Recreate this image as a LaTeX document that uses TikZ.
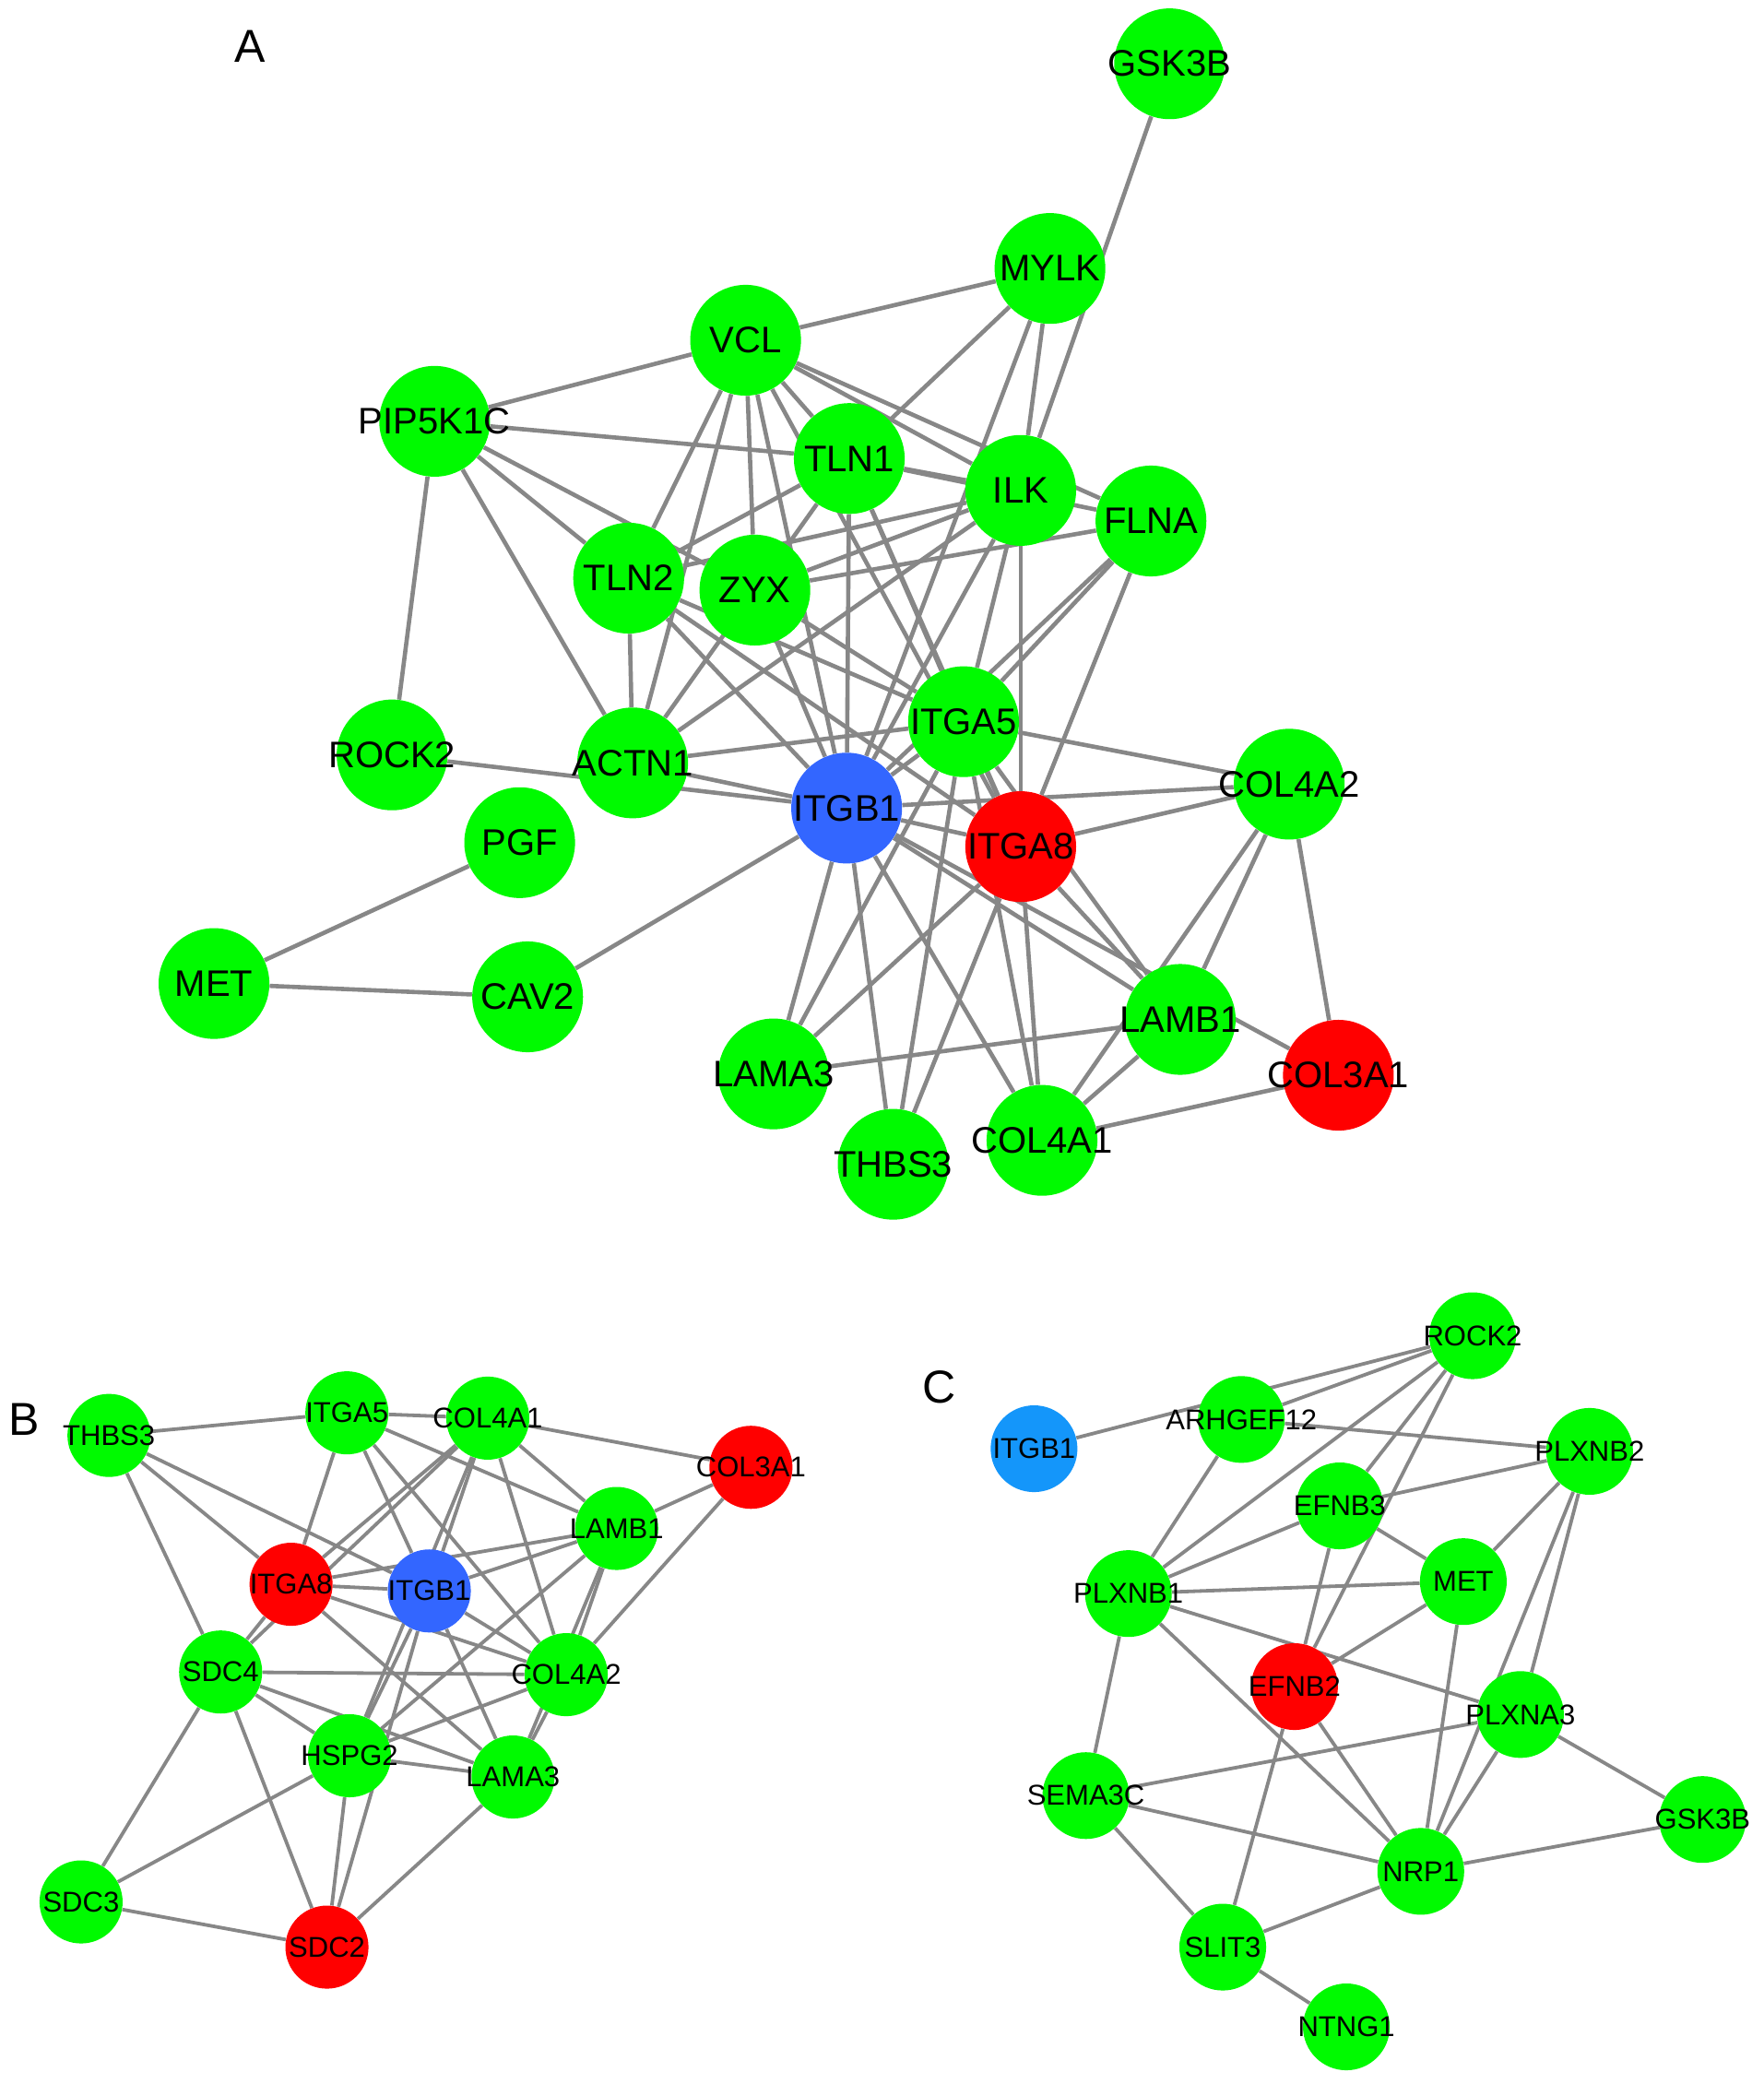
\documentclass[tikz,border=0pt]{standalone}
\usepackage{fontspec}
\setmainfont{Liberation Sans}
\usetikzlibrary{backgrounds}
\definecolor{ngreen}{RGB}{0,250,0}
\definecolor{nred}{RGB}{255,0,0}
\definecolor{nblue}{RGB}{51,102,255}
\definecolor{ncyan}{RGB}{20,150,250}
\definecolor{egray}{RGB}{135,135,135}
\pgfdeclarelayer{bgwhite}
\pgfdeclarelayer{edges}
\pgfsetlayers{bgwhite,edges,main}
\tikzset{
  anode/.style={circle, inner sep=0pt, minimum size=60pt, label={[font=\fontsize{20}{24}\selectfont, text=black]center:#1}},
  bnode/.style={circle, inner sep=0pt, minimum size=45pt, label={[font=\fontsize{15.5}{19}\selectfont, text=black]center:#1}},
  cnode/.style={circle, inner sep=0pt, minimum size=47pt, label={[font=\fontsize{15.5}{19}\selectfont, text=black]center:#1}},
  gfill/.style={fill=ngreen},
  rfill/.style={fill=nred},
  bfill/.style={fill=nblue},
  cfill/.style={fill=ncyan},
  aedge/.style={draw=egray, line width=2.3pt},
  bedge/.style={draw=egray, line width=1.9pt},
  panel/.style={font=\fontsize{25}{30}\selectfont, text=black}
}
\begin{document}
\begin{tikzpicture}[x=0.72pt, y=-0.72pt]
\useasboundingbox (0,0) rectangle (1327,1568);
\begin{pgfonlayer}{bgwhite}
\fill[white] (0,0) rectangle (1327,1568);
\end{pgfonlayer}

% ---------------- Panel A ----------------
\node[panel] (labA) at (188,35) {A};
\node[anode=GSK3B, gfill] (aGSK3B) at (880,48) {};
\node[anode=MYLK, gfill] (aMYLK) at (790,202) {};
\node[anode=VCL, gfill] (aVCL) at (561,256) {};
\node[anode=PIP5K1C, gfill] (aPIP) at (327,317) {};
\node[anode=TLN1, gfill] (aTLN1) at (639,345) {};
\node[anode=ILK, gfill] (aILK) at (768,369) {};
\node[anode=FLNA, gfill] (aFLNA) at (866,392) {};
\node[anode=TLN2, gfill] (aTLN2) at (473,435) {};
\node[anode=ZYX, gfill] (aZYX) at (568,444) {};
\node[anode=ITGA5, gfill] (aITGA5) at (725,543) {};
\node[anode=ROCK2, gfill] (aROCK2) at (295,568) {};
\node[anode=ACTN1, gfill] (aACTN1) at (476,574) {};
\node[anode=ITGB1, bfill] (aITGB1) at (637,608) {};
\node[anode=COL4A2, gfill] (aCOL4A2) at (970,590) {};
\node[anode=ITGA8, rfill] (aITGA8) at (768,637) {};
\node[anode=PGF, gfill] (aPGF) at (391,634) {};
\node[anode=MET, gfill] (aMET) at (161,740) {};
\node[anode=CAV2, gfill] (aCAV2) at (397,750) {};
\node[anode=LAMB1, gfill] (aLAMB1) at (888,767) {};
\node[anode=COL3A1, rfill] (aCOL3A1) at (1007,809) {};
\node[anode=LAMA3, gfill] (aLAMA3) at (582,808) {};
\node[anode=COL4A1, gfill] (aCOL4A1) at (784,858) {};
\node[anode=THBS3, gfill] (aTHBS3) at (672,876) {};

\begin{pgfonlayer}{edges}
\foreach \p/\q in {aGSK3B/aILK,
  aMYLK/aVCL, aMYLK/aTLN1, aMYLK/aILK, aMYLK/aITGB1,
  aVCL/aPIP, aVCL/aTLN1, aVCL/aILK, aVCL/aFLNA, aVCL/aTLN2, aVCL/aZYX, aVCL/aACTN1, aVCL/aITGB1, aVCL/aITGA8,
  aPIP/aTLN1, aPIP/aTLN2, aPIP/aZYX, aPIP/aACTN1, aPIP/aROCK2,
  aTLN1/aILK, aTLN1/aFLNA, aTLN1/aTLN2, aTLN1/aACTN1, aTLN1/aITGB1, aTLN1/aITGA5, aTLN1/aITGA8,
  aILK/aTLN2, aILK/aZYX, aILK/aACTN1, aILK/aITGB1, aILK/aITGA5, aILK/aITGA8,
  aFLNA/aZYX, aFLNA/aITGA5, aFLNA/aITGB1, aFLNA/aITGA8,
  aTLN2/aACTN1, aTLN2/aITGB1, aTLN2/aITGA5, aTLN2/aITGA8,
  aZYX/aITGB1, aZYX/aITGA5,
  aACTN1/aITGA5, aACTN1/aITGB1,
  aROCK2/aITGB1,
  aITGB1/aCAV2, aITGB1/aITGA5, aITGB1/aITGA8, aITGB1/aCOL4A2, aITGB1/aLAMB1, aITGB1/aCOL3A1, aITGB1/aCOL4A1, aITGB1/aTHBS3, aITGB1/aLAMA3,
  aITGA5/aITGA8, aITGA5/aCOL4A2, aITGA5/aLAMB1, aITGA5/aCOL4A1, aITGA5/aTHBS3, aITGA5/aLAMA3,
  aITGA8/aCOL4A2, aITGA8/aLAMB1, aITGA8/aCOL4A1, aITGA8/aTHBS3, aITGA8/aLAMA3,
  aCOL4A2/aLAMB1, aCOL4A2/aCOL4A1, aCOL4A2/aCOL3A1,
  aLAMB1/aLAMA3, aLAMB1/aCOL4A1,
  aCOL4A1/aCOL3A1,
  aPGF/aMET, aMET/aCAV2}
  \draw[aedge] (\p) -- (\q);
\end{pgfonlayer}

% ---------------- Panel B ----------------
\node[panel] (labB) at (18,1068) {B};
\node[bnode=THBS3, gfill] (bTHBS3) at (82,1080) {};
\node[bnode=ITGA5, gfill] (bITGA5) at (261,1063) {};
\node[bnode=COL4A1, gfill] (bCOL4A1) at (367,1067) {};
\node[bnode=COL3A1, rfill] (bCOL3A1) at (565,1104) {};
\node[bnode=LAMB1, gfill] (bLAMB1) at (464,1150) {};
\node[bnode=ITGA8, rfill] (bITGA8) at (219,1192) {};
\node[bnode=ITGB1, bfill] (bITGB1) at (323,1197) {};
\node[bnode=SDC4, gfill] (bSDC4) at (166,1258) {};
\node[bnode=COL4A2, gfill] (bCOL4A2) at (426,1260) {};
\node[bnode=HSPG2, gfill] (bHSPG2) at (263,1321) {};
\node[bnode=LAMA3, gfill] (bLAMA3) at (386,1337) {};
\node[bnode=SDC3, gfill] (bSDC3) at (61,1431) {};
\node[bnode=SDC2, rfill] (bSDC2) at (246,1465) {};

\begin{pgfonlayer}{edges}
\foreach \p/\q in {bTHBS3/bITGA5, bTHBS3/bITGA8, bTHBS3/bITGB1, bTHBS3/bSDC4,
  bITGA5/bCOL4A1, bITGA5/bITGA8, bITGA5/bITGB1, bITGA5/bLAMB1, bITGA5/bCOL4A2,
  bCOL4A1/bCOL3A1, bCOL4A1/bLAMB1, bCOL4A1/bCOL4A2, bCOL4A1/bITGA8, bCOL4A1/bSDC4, bCOL4A1/bITGB1, bCOL4A1/bHSPG2,
  bCOL3A1/bLAMB1, bCOL3A1/bCOL4A2,
  bLAMB1/bITGB1, bLAMB1/bITGA8, bLAMB1/bCOL4A2, bLAMB1/bLAMA3, bLAMB1/bHSPG2,
  bITGA8/bITGB1, bITGA8/bCOL4A2, bITGA8/bLAMA3, bITGA8/bSDC4,
  bITGB1/bCOL4A2, bITGB1/bLAMA3, bITGB1/bHSPG2, bITGB1/bSDC2,
  bSDC4/bCOL4A2, bSDC4/bHSPG2, bSDC4/bLAMA3, bSDC4/bSDC3, bSDC4/bSDC2,
  bHSPG2/bCOL4A2, bHSPG2/bLAMA3, bHSPG2/bSDC3, bHSPG2/bSDC2,
  bSDC3/bSDC2, bSDC2/bLAMA3, bCOL4A2/bLAMA3}
  \draw[bedge] (\p) -- (\q);
\end{pgfonlayer}

% ---------------- Panel C ----------------
\node[panel] (labC) at (707,1044) {C};
\node[cnode=ROCK2, gfill] (cROCK2) at (1108,1005) {};
\node[cnode=ARHGEF12, gfill] (cARHGEF12) at (934,1068) {};
\node[cnode=ITGB1, cfill] (cITGB1) at (778,1090) {};
\node[cnode=PLXNB2, gfill] (cPLXNB2) at (1196,1092) {};
\node[cnode=EFNB3, gfill] (cEFNB3) at (1008,1133) {};
\node[cnode=MET, gfill] (cMET) at (1101,1190) {};
\node[cnode=PLXNB1, gfill] (cPLXNB1) at (849,1199) {};
\node[cnode=EFNB2, rfill] (cEFNB2) at (974,1269) {};
\node[cnode=PLXNA3, gfill] (cPLXNA3) at (1144,1290) {};
\node[cnode=SEMA3C, gfill] (cSEMA3C) at (817,1351) {};
\node[cnode=GSK3B, gfill] (cGSK3B) at (1281,1369) {};
\node[cnode=NRP1, gfill] (cNRP1) at (1069,1408) {};
\node[cnode=SLIT3, gfill] (cSLIT3) at (920,1465) {};
\node[cnode=NTNG1, gfill] (cNTNG1) at (1013,1525) {};

\begin{pgfonlayer}{edges}
\foreach \p/\q in {cITGB1/cROCK2, cROCK2/cARHGEF12, cROCK2/cPLXNB1, cROCK2/cEFNB3, cROCK2/cEFNB2,
  cARHGEF12/cPLXNB2, cARHGEF12/cPLXNB1,
  cPLXNB2/cEFNB3, cPLXNB2/cMET, cPLXNB2/cPLXNA3, cPLXNB2/cNRP1,
  cEFNB3/cPLXNB1, cEFNB3/cMET, cEFNB3/cEFNB2,
  cPLXNB1/cMET, cPLXNB1/cPLXNA3, cPLXNB1/cNRP1, cPLXNB1/cSEMA3C,
  cMET/cEFNB2, cMET/cNRP1,
  cEFNB2/cNRP1, cEFNB2/cSLIT3,
  cPLXNA3/cSEMA3C, cPLXNA3/cNRP1, cPLXNA3/cGSK3B,
  cSEMA3C/cNRP1, cSEMA3C/cSLIT3,
  cGSK3B/cNRP1, cNRP1/cSLIT3, cSLIT3/cNTNG1}
  \draw[bedge] (\p) -- (\q);
\end{pgfonlayer}
\end{tikzpicture}
\end{document}
